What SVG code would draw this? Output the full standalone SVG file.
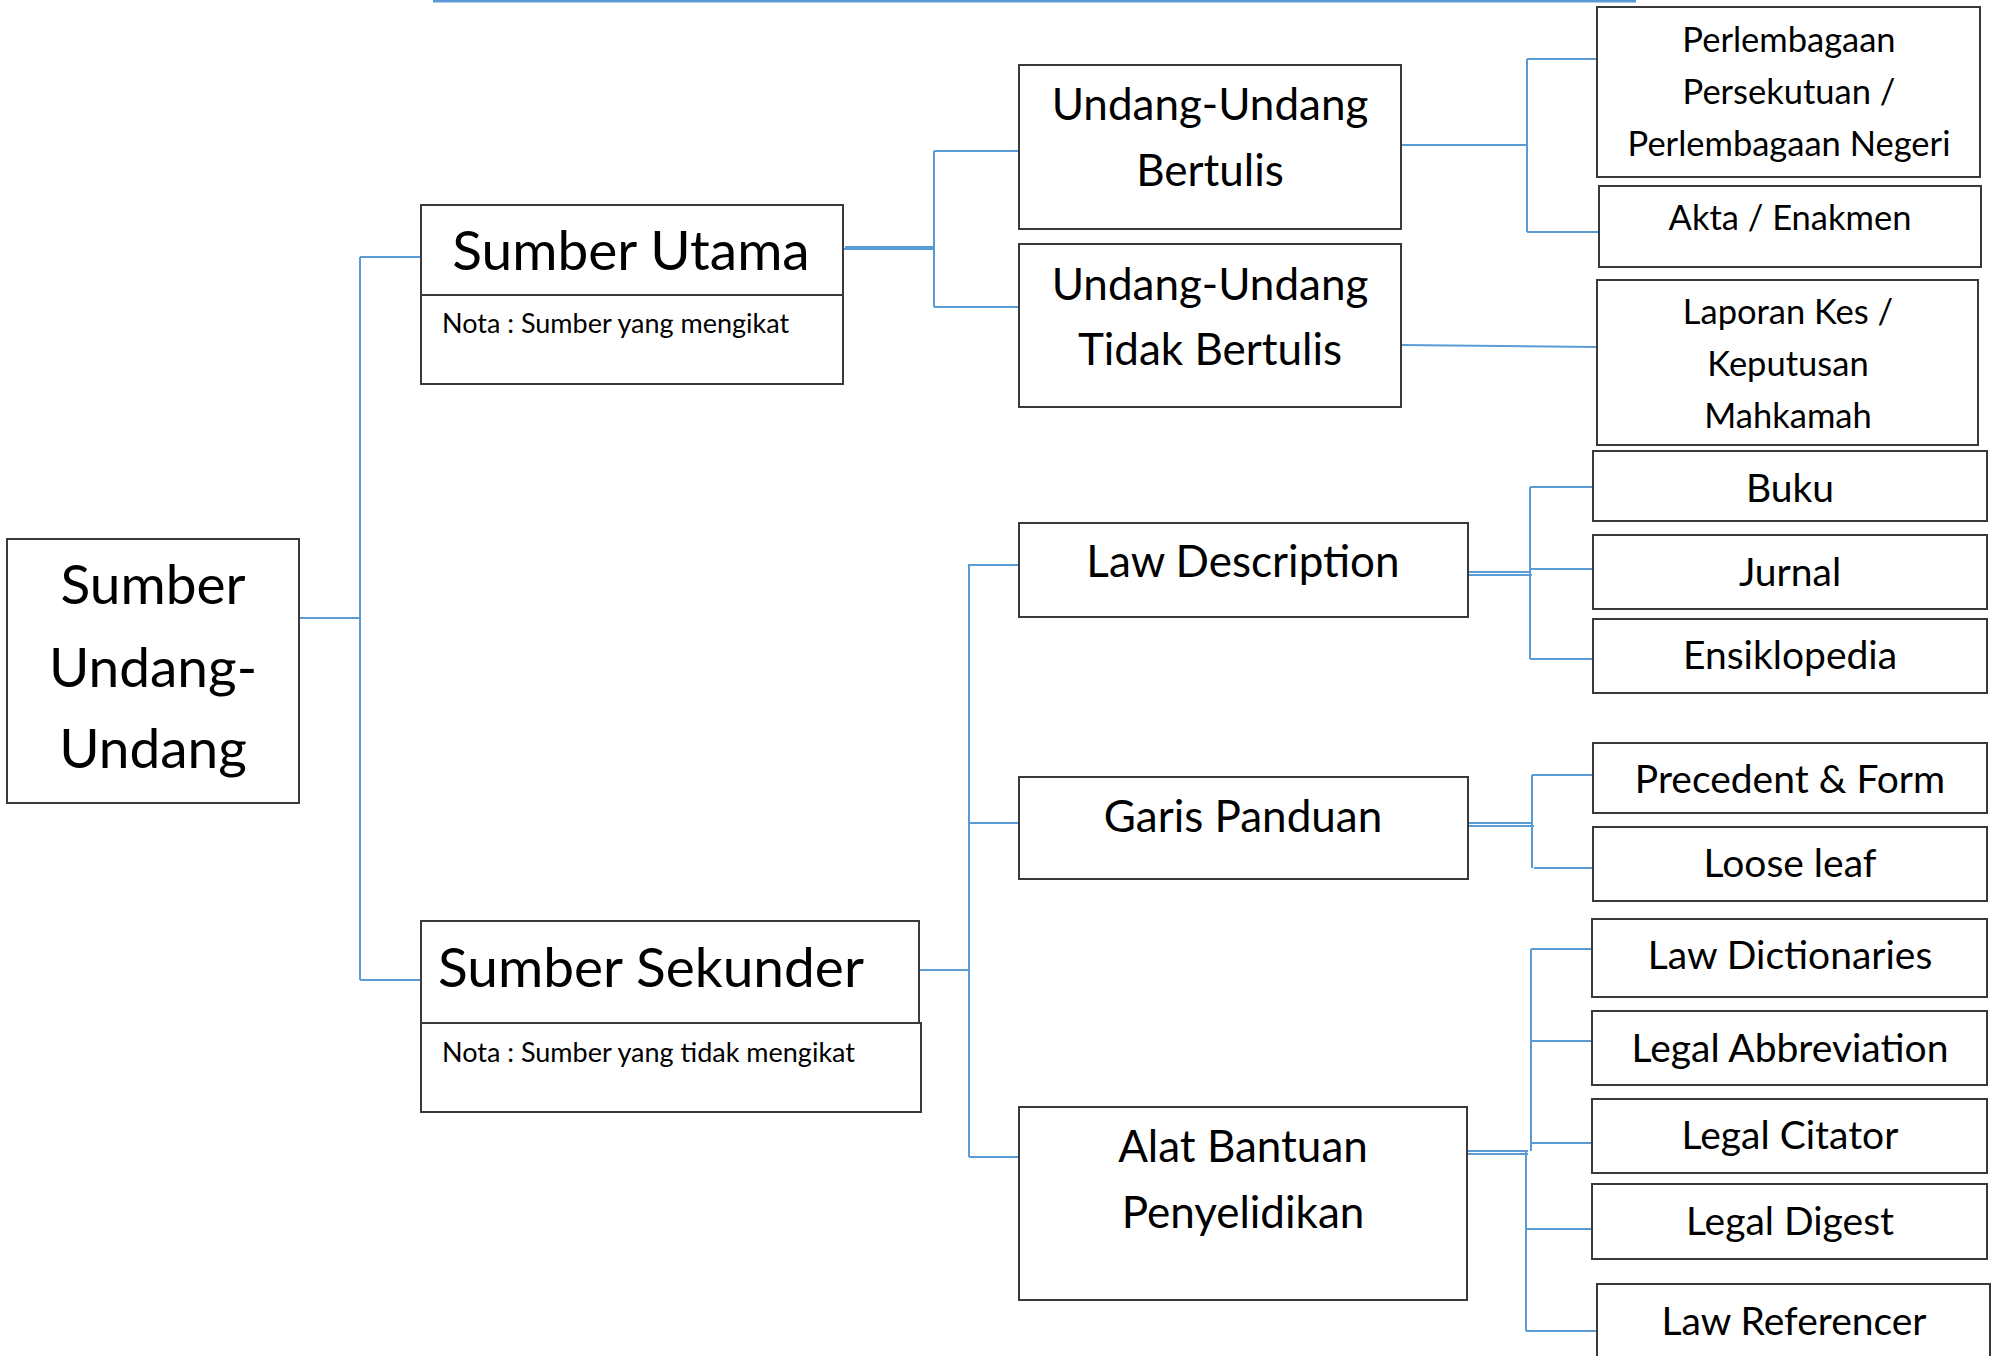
<svg xmlns="http://www.w3.org/2000/svg" width="1996" height="1356" viewBox="0 0 1996 1356">
<style>
.box{fill:#fff;stroke:#3a3a3a;stroke-width:2}
.c{fill:none;stroke:#5b9bd5;stroke-width:2}
.t{font-family:Lato,"Open Sans",sans-serif;fill:#000;text-anchor:middle}
.xl{font-size:55px}
.l{font-size:44px}
.m{font-size:39px}
.s{font-size:34.5px}
.n{font-size:27px;text-anchor:start}
</style>
<rect width="1996" height="1356" fill="#fff"/>
<line x1="433" y1="1" x2="1636" y2="1" stroke="#5b9bd5" stroke-width="3"/>
<g id="connectors">
<path class="c" d="M299,618H360M360,257V980M360,257H421M360,980H421"/>
<path class="c" d="M843,249H934M845,247H934M934,151V307M934,151H1019M934,307H1019"/>
<path class="c" d="M1401,145H1527M1527,59V232M1527,59H1596M1527,232H1599"/>
<path class="c" d="M1401,345L1597,347"/>
<path class="c" d="M919,970H969M969,564V1157M969,565H1019M969,823H1019M969,1157H1019"/>
<path class="c" d="M1468,572H1530M1468,575H1532M1530,487V659M1530,487H1593M1530,569H1593M1530,659H1593"/>
<path class="c" d="M1468,823H1532M1468,826H1534M1532,775V868M1532,775H1593M1534,868H1593"/>
<path class="c" d="M1467,1151H1528M1467,1154H1528M1531,949V1151M1526,1151V1331M1531,949H1592M1531,1041H1592M1531,1143H1592M1526,1229H1592M1526,1331H1597"/>
</g>
<g id="root">
<rect class="box" x="7" y="539" width="292" height="264"/>
<text class="t xl" x="153" y="604">Sumber</text>
<text class="t xl" x="153" y="687">Undang-</text>
<text class="t xl" x="153" y="768">Undang</text>
</g>
<g id="sumber-utama">
<rect class="box" x="421" y="205" width="422" height="90"/>
<rect class="box" x="421" y="295" width="422" height="89"/>
<text class="t xl" x="631" y="270">Sumber Utama</text>
<text class="t n" x="442" y="333">Nota : Sumber yang mengikat</text>
</g>
<g id="sumber-sekunder">
<rect class="box" x="421" y="921" width="498" height="103"/>
<rect class="box" x="421" y="1023" width="500" height="89"/>
<text class="t xl" x="651" y="987">Sumber Sekunder</text>
<text class="t n" x="442" y="1062">Nota : Sumber yang tidak mengikat</text>
</g>
<g id="uu-bertulis">
<rect class="box" x="1019" y="65" width="382" height="164"/>
<text class="t l" x="1210" y="120">Undang-Undang</text>
<text class="t l" x="1210" y="186">Bertulis</text>
</g>
<g id="uu-tidak-bertulis">
<rect class="box" x="1019" y="244" width="382" height="163"/>
<text class="t l" x="1210" y="300">Undang-Undang</text>
<text class="t l" x="1210" y="365">Tidak Bertulis</text>
</g>
<g id="perlembagaan">
<rect class="box" x="1597" y="7" width="383" height="170"/>
<text class="t s" x="1789" y="52">Perlembagaan</text>
<text class="t s" x="1789" y="104">Persekutuan /</text>
<text class="t s" x="1789" y="156">Perlembagaan Negeri</text>
</g>
<g id="akta">
<rect class="box" x="1599" y="186" width="382" height="81"/>
<text class="t s" x="1790" y="230">Akta / Enakmen</text>
</g>
<g id="laporan">
<rect class="box" x="1597" y="280" width="381" height="165"/>
<text class="t s" x="1788" y="324">Laporan Kes /</text>
<text class="t s" x="1788" y="376">Keputusan</text>
<text class="t s" x="1788" y="428">Mahkamah</text>
</g>
<g id="law-description">
<rect class="box" x="1019" y="523" width="449" height="94"/>
<text class="t l" x="1243" y="577">Law Description</text>
</g>
<g id="garis-panduan">
<rect class="box" x="1019" y="777" width="449" height="102"/>
<text class="t l" x="1243" y="832">Garis Panduan</text>
</g>
<g id="alat-bantuan">
<rect class="box" x="1019" y="1107" width="448" height="193"/>
<text class="t l" x="1243" y="1162">Alat Bantuan</text>
<text class="t l" x="1243" y="1228">Penyelidikan</text>
</g>
<g id="buku">
<rect class="box" x="1593" y="451" width="394" height="70"/>
<text class="t m" x="1790" y="502">Buku</text>
</g>
<g id="jurnal">
<rect class="box" x="1593" y="535" width="394" height="74"/>
<text class="t m" x="1790" y="586">Jurnal</text>
</g>
<g id="ensiklopedia">
<rect class="box" x="1593" y="619" width="394" height="74"/>
<text class="t m" x="1790" y="669">Ensiklopedia</text>
</g>
<g id="precedent">
<rect class="box" x="1593" y="743" width="394" height="70"/>
<text class="t m" x="1790" y="793">Precedent &amp; Form</text>
</g>
<g id="loose-leaf">
<rect class="box" x="1593" y="827" width="394" height="74"/>
<text class="t m" x="1790" y="877">Loose leaf</text>
</g>
<g id="law-dictionaries">
<rect class="box" x="1592" y="919" width="395" height="78"/>
<text class="t m" x="1790" y="969">Law Dictionaries</text>
</g>
<g id="legal-abbreviation">
<rect class="box" x="1592" y="1011" width="395" height="74"/>
<text class="t m" x="1790" y="1062">Legal Abbreviation</text>
</g>
<g id="legal-citator">
<rect class="box" x="1592" y="1099" width="395" height="74"/>
<text class="t m" x="1790" y="1149">Legal Citator</text>
</g>
<g id="legal-digest">
<rect class="box" x="1592" y="1184" width="395" height="75"/>
<text class="t m" x="1790" y="1235">Legal Digest</text>
</g>
<g id="law-referencer">
<rect class="box" x="1597" y="1284" width="393" height="90"/>
<text class="t m" x="1794" y="1335">Law Referencer</text>
</g>
</svg>
